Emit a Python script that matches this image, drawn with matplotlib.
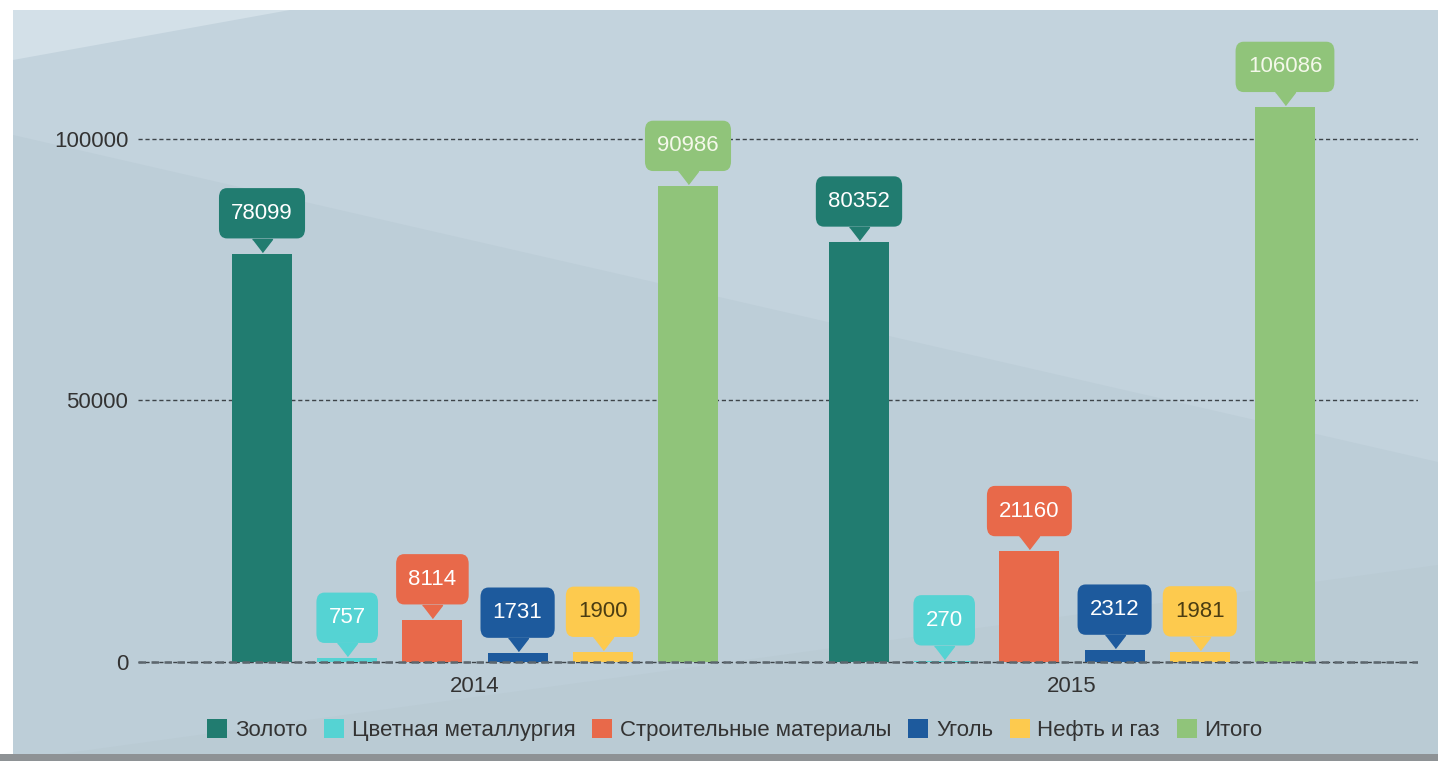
import matplotlib
matplotlib.use('Agg')
import matplotlib.pyplot as plt
from matplotlib.patches import Polygon, Rectangle, Patch

plt.rcParams['font.family'] = ['Liberation Sans', 'DejaVu Sans']

# данные
years = ['2014', '2015']
sectors = ['Золото', 'Цветная металлургия', 'Строительные материалы',
           'Уголь', 'Нефть и газ', 'Итого']
gold = [78099, 80352]
nonferrous = [757, 270]
building = [8114, 21160]
coal = [1731, 2312]
oil_gas = [1900, 1981]
total = [90986, 106086]
yticks = [0, 50000, 100000]

series = [gold, nonferrous, building, coal, oil_gas, total]
colors = ['#217c70', '#55d3d3', '#e8694a', '#1d5a9d', '#fdca4e', '#90c47a']
label_colors = ['#ffffff', '#ffffff', '#ffffff', '#ffffff', '#4b3d12', '#f4f8ea']

W, H = 1438, 761
fig = plt.figure(figsize=(W / 100, H / 100), dpi=100)
fig.patch.set_facecolor('white')

# фон с диагональными полосами (в пикселях)
bg = fig.add_axes([0, 0, 1, 1], zorder=0)
bg.set_xlim(0, W)
bg.set_ylim(H, 0)
bg.axis('off')
bg.add_patch(Rectangle((13, 10), W - 13, 744, color='#c3d3dd', lw=0))
bg.add_patch(Polygon([(13, 10), (290, 10), (13, 60)], closed=True, color='#d3e0e8', lw=0))
bg.add_patch(Polygon([(13, 135), (W, 462), (W, 754), (13, 754)], closed=True,
                     color='#bdced8', lw=0))
bg.add_patch(Polygon([(60, 754), (W, 565), (W, 754)], closed=True, color='#bacbd4', lw=0))
bg.add_patch(Rectangle((0, 754), W, 7, color='#8e9295', lw=0))

# основная область графика
ax = fig.add_axes([138 / W, 7 / H, 1280 / W, 744 / H], zorder=1)
ax.patch.set_alpha(0)
px_per_unit = 523 / 100000
ax.set_ylim(-(754 - 662) / px_per_unit, (662 - 10) / px_per_unit)
ax.set_xlim(-0.5645, 1.5796)

step = 85.2 / 597
width = 60 / 597
tri = [(-10, 15), (10, 15), (0, 2)]
for i, (vals, c, lc) in enumerate(zip(series, colors, label_colors)):
    xs = [k + (i - 2.5) * step for k in range(len(years))]
    ax.bar(xs, vals, width=width, color=c, zorder=3, label=sectors[i])
    for x, v in zip(xs, vals):
        ax.plot(x, v, marker=tri, markersize=21.6, color=c, linestyle='none', zorder=5)
        ax.annotate(str(v), xy=(x, v), xytext=(0, 29), textcoords='offset points',
                    ha='center', va='center', fontsize=16, color=lc, zorder=6,
                    bbox=dict(boxstyle='round,pad=0.55,rounding_size=0.36',
                              fc=c, ec=c, lw=0, mutation_aspect=1.2))

ax.set_yticks(yticks)
ax.set_yticklabels([str(t) for t in yticks])
ax.tick_params(axis='y', length=0, pad=7, labelsize=16, labelcolor='#333333')
ax.set_xticks([])
for s in ax.spines.values():
    s.set_visible(False)
ax.yaxis.grid(True, color='#3d4449', linestyle=(0, (3, 2)), linewidth=1, zorder=1)
ax.set_axisbelow(True)
ax.axhline(0, color='#5d676e', linestyle=(0, (3, 2.2)), linewidth=1.8, zorder=4)

for k, y in enumerate(years):
    ax.annotate(y, xy=(k, 0), xytext=(0, -17.5), textcoords='offset points',
                ha='center', va='center', fontsize=16, color='#333333')

handles = [Patch(facecolor=c, edgecolor='none') for c in colors]
fig.legend(handles, sectors, loc='center', bbox_to_anchor=(735 / W, 1 - 730 / H),
           ncol=6, frameon=False, fontsize=16, labelcolor='#333333',
           handlelength=0.9, handleheight=0.9, handletextpad=0.35,
           columnspacing=0.75, borderaxespad=0)

fig.savefig('out.png', dpi=100)
